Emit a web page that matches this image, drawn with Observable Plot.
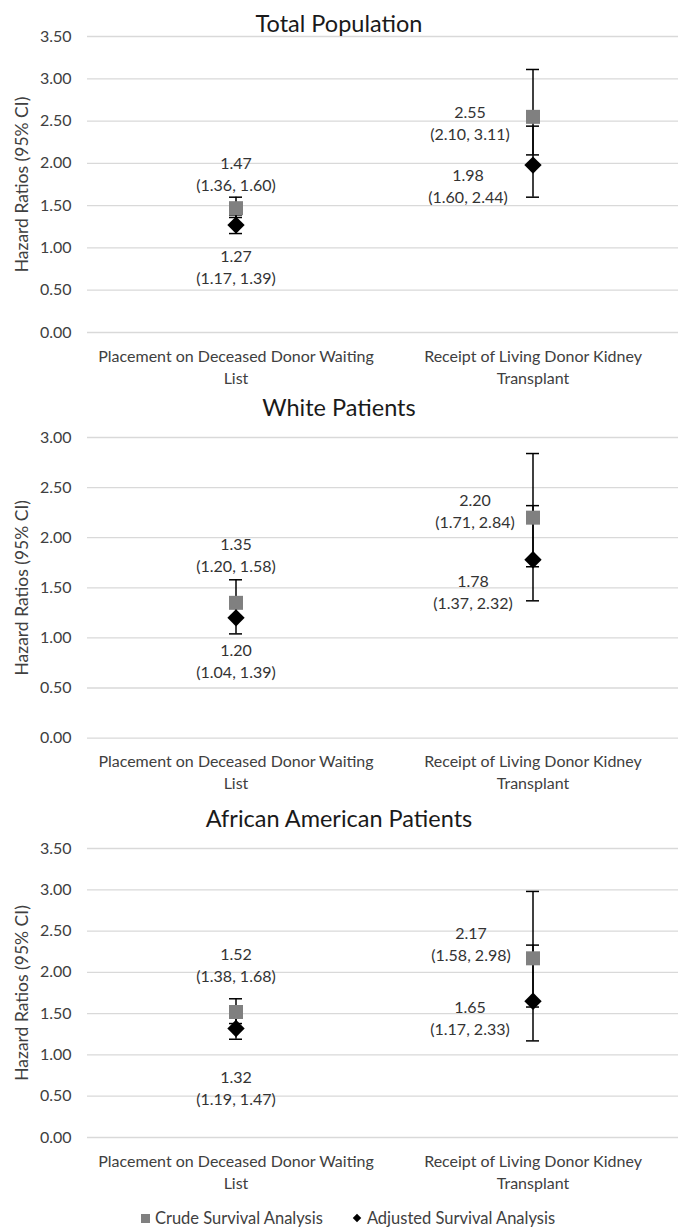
<!DOCTYPE html>
<html>
<head>
<meta charset="utf-8">
<script src="https://cdn.jsdelivr.net/npm/d3@7"></script>
<script src="https://cdn.jsdelivr.net/npm/@observablehq/plot@0.6"></script>
<style>
  html, body { margin: 0; padding: 0; background: #fff; }
  #root { position: relative; width: 678px; height: 1228px; font-family: Lato, "Open Sans", sans-serif; }
  .title { position: absolute; left: 0; width: 678px; text-align: center; font-size: 23.5px; color: #1a1a1a; height: 30px; line-height: 30px; }
  .panel { position: absolute; left: 0; }
  .legend { position: absolute; left: 18px; width: 660px; top: 1207px; height: 22px; line-height: 22px; font-size: 16.5px; color: #404040; display: flex; justify-content: center; align-items: center; }
  .legend .item { display: flex; align-items: center; }
  .legend .sq { width: 9px; height: 9px; background: #808080; margin-right: 5px; }
  .legend .dm { width: 6px; height: 6px; background: #000; transform: rotate(45deg); margin-right: 7px; }
  .legend .gap { width: 31px; }
</style>
</head>
<body>
<div id="root"></div>
<script>
// ---- data ----
const categories = ["Placement on Deceased Donor Waiting List", "Receipt of Living Donor Kidney Transplant"];
const categoryLabels = ["Placement on Deceased Donor Waiting\nList", "Receipt of Living Donor Kidney\nTransplant"];
const panelTitles = ["Total Population", "White Patients", "African American Patients"];
const yAxisTitle = "Hazard Ratios (95% CI)";
const yMax = [3.5, 3.0, 3.5];
const series = ["Crude Survival Analysis", "Adjusted Survival Analysis"];
// per panel: [placement, living]
const crudeHR = [[1.47, 2.55], [1.35, 2.20], [1.52, 2.17]];
const crudeLo = [[1.36, 2.10], [1.20, 1.71], [1.38, 1.58]];
const crudeHi = [[1.60, 3.11], [1.58, 2.84], [1.68, 2.98]];
const adjHR = [[1.27, 1.98], [1.20, 1.78], [1.32, 1.65]];
const adjLo = [[1.17, 1.60], [1.04, 1.37], [1.19, 1.17]];
const adjHi = [[1.39, 2.44], [1.39, 2.32], [1.47, 2.33]];

// ---- layout (style only) ----
const layout = [
  {titleY: 23, top: 24, plotH: 296},
  {titleY: 407, top: 425, plotH: 300.6},
  {titleY: 818, top: 836, plotH: 289}
];
// label nudges relative to each marker: [leftCrude, leftAdj, rightCrude, rightAdj] as [dx, dy]
const labelNudge = [
  [[0, -35], [0, 41], [-63, 5], [-65, 20]],
  [[0, -49], [0, 42], [-58, -8], [-60, 31]],
  [[0, -48], [0, 58], [-62, -15], [-63, 16]]
];
const marginTop = 12, marginBottom = 58, marginLeft = 87;
const fmt = d3.format(".2f");

const root = document.getElementById("root");

panelTitles.forEach((title, p) => {
  const rows = [];
  categories.forEach((c, i) => {
    rows.push({cat: c, ci: i, s: 0, hr: crudeHR[p][i], lo: crudeLo[p][i], hi: crudeHi[p][i]});
    rows.push({cat: c, ci: i, s: 1, hr: adjHR[p][i], lo: adjLo[p][i], hi: adjHi[p][i]});
  });
  const lab = d => `${fmt(d.hr)}\n(${fmt(d.lo)}, ${fmt(d.hi)})`;
  const L = layout[p];
  const height = marginTop + L.plotH + marginBottom;
  const textStyle = {fontSize: 16, fill: "#333333", lineHeight: 1.375, fontFamily: "Lato", lineAnchor: "middle"};
  const ticks = d3.range(0, yMax[p] + 0.001, 0.5);

  const labelMarks = [];
  [0, 1].forEach(ci => [0, 1].forEach(s => {
    const [dx, dy] = labelNudge[p][ci * 2 + s];
    labelMarks.push(Plot.text(rows.filter(d => d.ci === ci && d.s === s), {x: "cat", y: "hr", text: lab, dx, dy, textAnchor: "middle", ...textStyle}));
  }));

  const chart = Plot.plot({
    width: 678,
    height,
    marginTop, marginBottom, marginLeft, marginRight: 0,
    style: {fontFamily: "Lato", fontSize: "16px", background: "white", overflow: "visible"},
    x: {domain: categories, range: [87, 681], padding: 0, axis: null},
    y: {domain: [0, yMax[p]], axis: null},
    marks: [
      Plot.gridY(ticks, {stroke: "#d9d9d9", strokeOpacity: 1, strokeWidth: 1.3}),
      Plot.axisY(ticks, {tickSize: 0, tickPadding: 16, tickFormat: fmt, fontSize: 16, fill: "#404040", label: null}),
      Plot.text([yMax[p] / 2], {y: d => d, frameAnchor: "left", textAnchor: "middle", lineAnchor: "middle", text: () => yAxisTitle, rotate: -90, dx: -65, fontSize: 17.5, fill: "#404040"}),
      Plot.text(categories, {x: d => d, frameAnchor: "bottom", textAnchor: "middle", text: (d, i) => categoryLabels[i], dy: 33, ...textStyle, fill: "#404040"}),
      Plot.ruleX(rows, {x: "cat", y1: "lo", y2: "hi", stroke: "black", strokeWidth: 1.5}),
      Plot.tickY(rows, {x: "cat", y: "lo", stroke: "black", strokeWidth: 1.5, insetLeft: 142, insetRight: 142}),
      Plot.tickY(rows, {x: "cat", y: "hi", stroke: "black", strokeWidth: 1.5, insetLeft: 142, insetRight: 142}),
      Plot.dot(rows.filter(d => d.s === 0), {x: "cat", y: "hr", symbol: "square", r: 7.9, fill: "#808080", stroke: "none"}),
      Plot.dot(rows.filter(d => d.s === 1), {x: "cat", y: "hr", symbol: "diamond2", r: 7.8, fill: "#000", stroke: "none"}),
      ...labelMarks
    ]
  });
  const wrap = document.createElement("div");
  wrap.className = "panel";
  wrap.style.top = L.top + "px";
  wrap.appendChild(chart);
  root.appendChild(wrap);

  const t = document.createElement("div");
  t.className = "title";
  t.style.top = (L.titleY - 15) + "px";
  t.textContent = title;
  root.appendChild(t);
});

const legend = document.createElement("div");
legend.className = "legend";
legend.innerHTML = `<div class="item"><div class="sq"></div><span>${series[0]}</span></div><div class="gap"></div><div class="item"><div class="dm"></div><span>${series[1]}</span></div>`;
root.appendChild(legend);
</script>
</body>
</html>
